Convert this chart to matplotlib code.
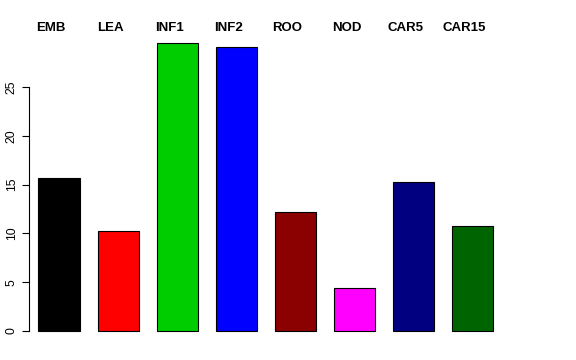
import numpy as np
import matplotlib
matplotlib.use("Agg")
import matplotlib.pyplot as plt

plt.rcParams['font.family'] = ['Liberation Sans', 'DejaVu Sans']

tissues = ['EMB', 'LEA', 'INF1', 'INF2', 'ROO', 'NOD', 'CAR5', 'CAR15']
values = [15.7, 10.25, 29.5, 29.1, 12.2, 4.4, 15.3, 10.75]
colors = ['black', 'red', '#00CD00', 'blue', '#8B0000', 'magenta', '#000080', '#006400']

fig = plt.figure(figsize=(5.76, 3.6), dpi=100)
ax = fig.add_axes([29 / 576, 17.5 / 360, 490 / 576, (342.5 - 31.6) / 360])

x = 0.7 + 1.2 * np.arange(len(tissues))
ax.bar(x, values, width=0.834, color=colors, edgecolor='black', linewidth=0.8)

ax.set_xlim(0.09, 10.05)
ax.set_ylim(-1.18, 30.68)

for xi, name in zip(x, tissues):
    ax.text(xi - 0.16, 31.05, name, ha='center', va='center',
            fontsize=9.5, fontweight='bold', clip_on=False)

for s in ['top', 'right', 'bottom']:
    ax.spines[s].set_visible(False)
ax.spines['left'].set_bounds(0, 25)
ax.spines['left'].set_linewidth(0.8)
ax.set_xticks([])
ax.set_yticks([0, 5, 10, 15, 20, 25])
ax.tick_params(axis='y', length=5, width=0.8, labelsize=8.8, pad=3)
for lab in ax.get_yticklabels():
    lab.set_rotation(90)
    lab.set_va('center')

fig.savefig('out.png', dpi=100)
